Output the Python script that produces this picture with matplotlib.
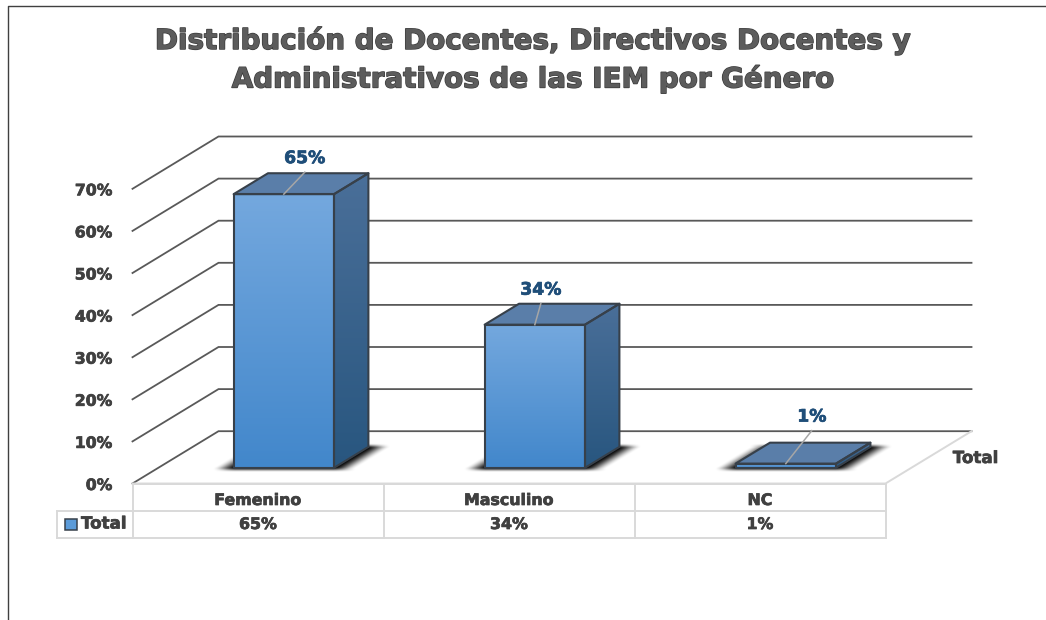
import numpy as np
import matplotlib
matplotlib.use("Agg")
import matplotlib.pyplot as plt
from matplotlib.patches import Polygon
from matplotlib.colors import LinearSegmentedColormap
import matplotlib.patheffects as pe

title = "Distribución de Docentes, Directivos Docentes y\nAdministrativos de las IEM por Género"
categories = ["Femenino", "Masculino", "NC"]
values = [65, 34, 1]
value_labels = ["65%", "34%", "1%"]
y_ticks = [0, 10, 20, 30, 40, 50, 60, 70]
series_name = "Total"

plt.rcParams['font.family'] = ['DejaVu Sans']
W, H = 1046, 620
fig = plt.figure(figsize=(W / 100, H / 100), dpi=100, facecolor='white')
ax = fig.add_axes([0, 0, 1, 1])
ax.set_xlim(0, W)
ax.set_ylim(H, 0)
ax.axis('off')

# Projection of the 3D frame: band index, value, depth (0 front .. 1 back)
X0, BAND, Y0, PER = 132.5, 251.0, 483.5, 4.21
DX, DY = 86.0, -52.3


def P(b, v=0.0, d=0.0):
    return (X0 + BAND * b + DX * d, Y0 - PER * v + DY * d)


GRID = '#595959'
LIGHT = '#d9d9d9'
TXT = '#404040'
n = len(categories)
HEAVY = [pe.withStroke(linewidth=0.5, foreground=TXT)]

# Outer border of the chart area
ax.plot([7.5, 7.5, W], [H, 5.5, 5.5], color='#404040', lw=1.0, zorder=1)

# Gridlines: left wall + back wall
for t in y_ticks:
    pts = [P(0, t, 0), P(0, t, 1), P(n, t, 1)]
    ax.plot(*zip(*pts), color=GRID, lw=1.3, zorder=2, solid_joinstyle='miter')
    x, y = P(0, t, 0)
    ax.text(x - 20, y + 2, f"{t}%", ha='right', va='center', fontsize=11.3,
            fontweight='bold', color=TXT, zorder=9, path_effects=HEAVY)

# Floor outline
ax.plot(*zip(P(0, 0, 0), P(n, 0, 0), P(n, 0, 1)), color=LIGHT, lw=1.4, zorder=2)


def gradient(poly, top, bottom, zorder):
    xs, ys = zip(*poly)
    cmap = LinearSegmentedColormap.from_list('g', [top, bottom])
    im = ax.imshow(np.linspace(0, 1, 256)[:, None], cmap=cmap, aspect='auto',
                   extent=(min(xs), max(xs), max(ys), min(ys)), zorder=zorder)
    patch = Polygon(poly, closed=True, transform=ax.transData)
    im.set_clip_path(patch)


def soft_shadow(fl, fr, br, bl, zorder):
    """Blurred floor shadow around the footprint of a bar."""
    x0, x1 = fl[0] - 40, br[0] + 40
    y0, y1 = bl[1] - 8, fl[1] + 8
    xx, yy = np.meshgrid(np.arange(x0, x1, 0.5), np.arange(y0, y1, 0.5))
    t = np.clip((fl[1] - yy) / (fl[1] - bl[1]), 0, 1)
    xl = fl[0] + t * (bl[0] - fl[0]) - 10
    xr = fr[0] + t * (br[0] - fr[0]) + 10
    s = 12.0
    ramp = lambda a: (lambda u: u * u * (3 - 2 * u))(np.clip(a, 0, 1))
    ax_x = ramp((xx - xl + s) / (2 * s)) * ramp((xr + s - xx) / (2 * s))
    ax_y = ramp((yy - bl[1] + 4) / 5.0) * ramp((fl[1] + 4 - yy) / 5.0)
    rgba = np.zeros(xx.shape + (4,))
    rgba[..., 3] = 1.0 * ax_x * ax_y
    ax.imshow(rgba, aspect='auto', extent=(x0, x1, y1, y0), zorder=zorder,
              interpolation='bilinear')


BAR_W, D0, D1 = 0.4, 0.30, 0.70
EDGE = '#37404a'
for i, (v, lab) in enumerate(zip(values, value_labels)):
    bl, br = i + 0.5 - BAR_W / 2, i + 0.5 + BAR_W / 2
    soft_shadow(P(bl, 0, D0), P(br, 0, D0), P(br, 0, D1), P(bl, 0, D1), 3)
    front = [P(bl, 0, D0), P(br, 0, D0), P(br, v, D0), P(bl, v, D0)]
    side = [P(br, 0, D0), P(br, 0, D1), P(br, v, D1), P(br, v, D0)]
    top = [P(bl, v, D0), P(br, v, D0), P(br, v, D1), P(bl, v, D1)]
    gradient(side, '#4a6f99', '#28567f', 4)
    gradient(front, '#74a8de', '#4287cb', 4)
    ax.add_patch(Polygon(top, closed=True, fc='#5a7ea9', ec='none', zorder=4))
    for poly in (side, front, top):
        ax.add_patch(Polygon(poly, closed=True, fc='none', ec=EDGE, lw=1.5,
                             joinstyle='round', zorder=5))
    # Leader and data label
    c = P(i + 0.5, v, D0)
    if v > 50:
        end = (c[0] + 21, c[1] - 22)
    elif v > 10:
        end = (c[0] + 6, c[1] - 21)
    else:
        end = (c[0] + 26, c[1] - 33)
    ax.plot([c[0], end[0]], [c[1], end[1]], color='#a6a6a6', lw=1.1, zorder=6)
    ax.text(end[0], end[1] - 14, lab, ha='center', va='center', fontsize=12.4,
            fontweight='bold', color='#1f4e79', zorder=9,
            path_effects=[pe.withStroke(linewidth=0.5, foreground='#1f4e79')])

# Data table
yt0, yt1, yt2 = Y0, 511, 538
ax.plot([P(0)[0], P(n)[0]], [yt0, yt0], color=LIGHT, lw=1.4, zorder=2)
ax.plot([57, P(n)[0]], [yt1, yt1], color=LIGHT, lw=1.4, zorder=2)
ax.plot([57, P(n)[0]], [yt2, yt2], color=LIGHT, lw=1.4, zorder=2)
ax.plot([57, 57], [yt1, yt2], color=LIGHT, lw=1.4, zorder=2)
for b in range(n + 1):
    ax.plot([P(b)[0]] * 2, [yt0, yt2], color=LIGHT, lw=1.4, zorder=2)
for i, (cat, lab) in enumerate(zip(categories, value_labels)):
    xc = P(i + 0.5)[0]
    ax.text(xc, 500.5, cat, ha='center', va='center', fontsize=11.4,
            fontweight='bold', color=TXT, path_effects=HEAVY)
    ax.text(xc, 524.5, lab, ha='center', va='center', fontsize=11.4,
            fontweight='bold', color=TXT, path_effects=HEAVY)
ax.add_patch(Polygon([(65, 519), (77, 519), (77, 530), (65, 530)], closed=True,
                     fc='#5b9bd9', ec=EDGE, lw=1.1, zorder=5))
ax.text(81, 523.5, series_name, ha='left', va='center', fontsize=12,
        fontweight='bold', color=TXT, path_effects=HEAVY)
ax.text(975.5, 458, series_name, ha='center', va='center', fontsize=12,
        fontweight='bold', color=TXT, path_effects=HEAVY)

# Title
ax.text(533, 59.5, title, ha='center', va='center', fontsize=20, fontweight='bold',
        color='#5c5c5c', linespacing=1.38, zorder=10,
        path_effects=[pe.withStroke(linewidth=1.0, foreground='#3a3a3a')])

ax.set_xlim(0, W)
ax.set_ylim(H, 0)
fig.savefig('out.png', dpi=100, facecolor='white')
